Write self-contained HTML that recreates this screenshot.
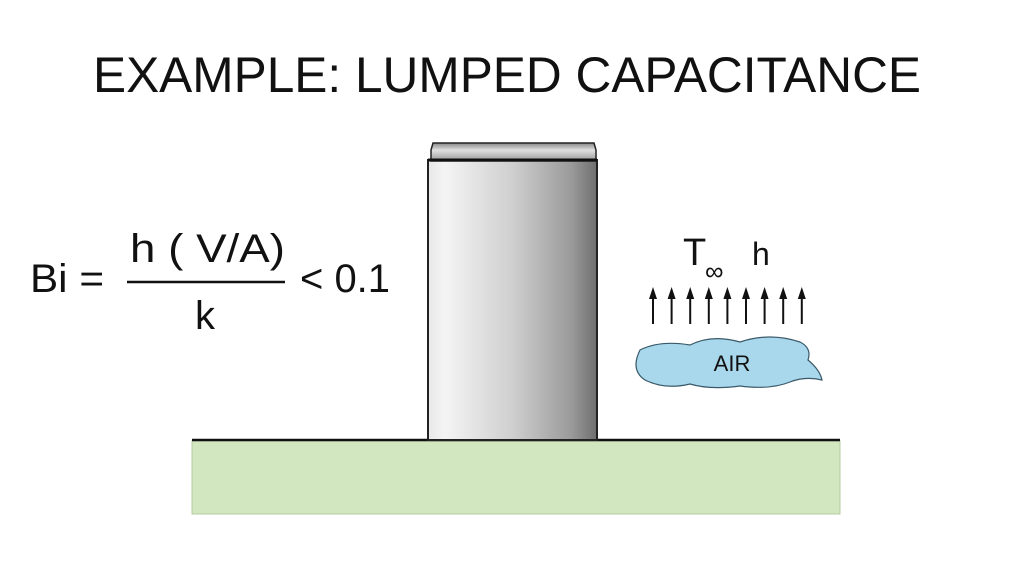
<!DOCTYPE html>
<html><head><style>
html,body{margin:0;padding:0;background:#fff;}
svg{display:block}
text{font-family:"Liberation Sans",sans-serif;fill:#111}
</style></head><body>
<svg width="1024" height="576" viewBox="0 0 1024 576">
<defs>
<linearGradient id="cg" x1="0" x2="1" y1="0" y2="0">
<stop offset="0" stop-color="#e8e8e8"/><stop offset="0.1" stop-color="#f4f4f4"/>
<stop offset="0.5" stop-color="#cfcfcf"/><stop offset="0.85" stop-color="#9a9a9a"/><stop offset="1" stop-color="#6e6e6e"/>
</linearGradient>
<linearGradient id="cap" x1="0" x2="0" y1="0" y2="1">
<stop offset="0" stop-color="#888"/><stop offset="0.4" stop-color="#e0e0e0"/><stop offset="1" stop-color="#999"/>
</linearGradient>
</defs>
<text x="507" y="92" font-size="50" text-anchor="middle" textLength="828" lengthAdjust="spacingAndGlyphs">EXAMPLE:  LUMPED CAPACITANCE</text>
<rect x="192" y="441" width="648" height="73" fill="#d2e6bf" stroke="#b5cca0" stroke-width="1"/>
<line x1="192" y1="440" x2="840" y2="440" stroke="#111" stroke-width="2.5"/>
<rect x="428" y="160" width="169" height="280" fill="url(#cg)" stroke="#222" stroke-width="2"/>
<path d="M431 161 L431 150 L433 143 L594 143 L596 150 L596 161 Z" fill="url(#cap)" stroke="#222" stroke-width="1.5"/>
<line x1="428" y1="160" x2="597" y2="160" stroke="#111" stroke-width="3"/>
<text x="30" y="292" font-size="40" textLength="74" lengthAdjust="spacingAndGlyphs">Bi =</text>
<text x="130" y="262" font-size="40" textLength="155" lengthAdjust="spacingAndGlyphs">h ( V/A)</text>
<line x1="127" y1="282" x2="285" y2="282" stroke="#111" stroke-width="2.5"/>
<text x="195" y="329" font-size="40">k</text>
<text x="300" y="292" font-size="40" textLength="90" lengthAdjust="spacingAndGlyphs">&lt; 0.1</text>
<text x="683" y="265" font-size="38">T</text>
<text x="705" y="280" font-size="26">∞</text>
<text x="752" y="265" font-size="32">h</text>
<g stroke="#111" stroke-width="2" fill="#111">
<g id="ar"><line x1="653" y1="324" x2="653" y2="296"/><path d="M649 299 L653 287 L657 299 Z" stroke="none"/></g>
<use href="#ar" x="18.6"/><use href="#ar" x="37.2"/><use href="#ar" x="55.8"/><use href="#ar" x="74.4"/>
<use href="#ar" x="93"/><use href="#ar" x="111.6"/><use href="#ar" x="130.2"/><use href="#ar" x="148.8"/>
</g>
<path d="M640 350 Q660 340 690 345 Q712 334 740 342 Q770 332 800 342 Q812 348 808 360 Q820 370 822 380 Q805 376 790 382 Q770 390 740 386 Q710 390 690 384 Q665 390 645 380 Q630 370 640 350 Z" fill="#a9d8ec" stroke="#3a5a6a" stroke-width="1.2"/>
<text x="732" y="371" font-size="22" text-anchor="middle" fill="#1a2a3a">AIR</text>
</svg>
</body></html>
